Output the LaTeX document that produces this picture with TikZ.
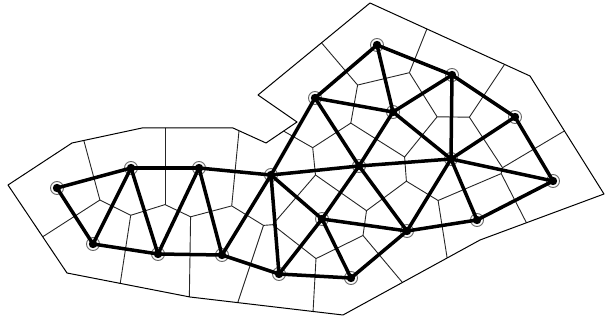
\documentclass[tikz,border=0pt]{standalone}
\begin{document}
\begin{tikzpicture}[x=1pt,y=-1pt,
  vor/.style={draw=black!85,line width=0.9pt,line join=round},
  rim/.style={draw=black,line width=1pt,line join=round},
  edge/.style={draw=black,line width=3.5pt,line cap=round},
  site/.style={circle,draw=black!60,line width=0.9pt,fill=white,minimum size=13pt,inner sep=0pt,
    path picture={\fill[black] (path picture bounding box.center) circle (4.2pt);}}]
\useasboundingbox (0,0) rectangle (606,320);
% circumcentres (Voronoi vertices)
\coordinate (c1) at (99.9,200.0);
\coordinate (c2) at (130.7,215.3);
\coordinate (c3) at (165,204.6);
\coordinate (c4) at (190.6,216.8);
\coordinate (c5) at (231.7,205.9);
\coordinate (c6) at (263.5,225.4);
\coordinate (c7) at (272.6,224.7);
\coordinate (c8) at (316,258.6);
\coordinate (c9) at (363,235.5);
\coordinate (c10) at (315.5,175);
\coordinate (c11) at (366.5,210.7);
\coordinate (c12) at (406.4,181.2);
\coordinate (c13) at (438.1,200.5);
\coordinate (c14) at (501.2,173.6);
\coordinate (c15) at (502.5,167.7);
\coordinate (c16) at (469.4,117.2);
\coordinate (c17) at (437.1,116.8);
\coordinate (c18) at (404.6,157);
\coordinate (c19) at (350.8,123.1);
\coordinate (c20) at (312.7,147.7);
\coordinate (c21) at (357.6,85.05);
\coordinate (c22) at (409.4,72.7);
% ray ends
\coordinate (r1) at (69.9,89);
\coordinate (r2) at (15.9,254);
\coordinate (r3) at (115.7,312.8);
\coordinate (r4) at (165,100);
\coordinate (r5) at (189.1,312.8);
\coordinate (r6) at (242.2,97.9);
\coordinate (r7) at (235,310.9);
\coordinate (r8) at (312,330.6);
\coordinate (r9) at (419.4,302.7);
\coordinate (r10) at (451.3,284.5);
\coordinate (r11) at (540.2,249.6);
\coordinate (r12) at (598.5,110.7);
\coordinate (r13) at (519.8,41.6);
\coordinate (r14) at (439.4,-2.3);
\coordinate (r15) at (294,10.6);
\coordinate (r16) at (266.5,121.3);
% outline corners
\coordinate (b1) at (8,185);
\coordinate (b2) at (72,143);
\coordinate (b3) at (142,128);
\coordinate (b4) at (233,128);
\coordinate (b5) at (266,143);
\coordinate (b6) at (297,122);
\coordinate (b7) at (258,95);
\coordinate (b8) at (370,3);
\coordinate (b9) at (530,76);
\coordinate (b10) at (604,194);
\coordinate (b11) at (480,240);
\coordinate (b12) at (343,315);
\coordinate (b13) at (190,297);
\coordinate (b14) at (67,273);
\begin{scope}
\clip (b1) -- (b2) -- (b3) -- (b4) -- (b5) -- (b6) -- (b7) -- (b8) -- (b9) -- (b10) -- (b11) -- (b12) -- (b13) -- (b14) -- cycle;
\draw[vor] (c1) -- (c2) -- (c3) -- (c4) -- (c5) -- (c6) -- (c7) -- (c8) -- (c9) -- (c11) -- (c12) -- (c13) -- (c14) -- (c15) -- (c16) -- (c17) -- (c18) -- (c12);
\draw[vor] (c7) -- (c10) -- (c11);
\draw[vor] (c10) -- (c20) -- (c19) -- (c18);
\draw[vor] (c19) -- (c21) -- (c22) -- (c17);
\draw[vor] (c1) -- (r1);
\draw[vor] (c1) -- (r2);
\draw[vor] (c2) -- (r3);
\draw[vor] (c3) -- (r4);
\draw[vor] (c4) -- (r5);
\draw[vor] (c5) -- (r6);
\draw[vor] (c6) -- (r7);
\draw[vor] (c8) -- (r8);
\draw[vor] (c9) -- (r9);
\draw[vor] (c13) -- (r10);
\draw[vor] (c14) -- (r11);
\draw[vor] (c15) -- (r12);
\draw[vor] (c16) -- (r13);
\draw[vor] (c22) -- (r14);
\draw[vor] (c21) -- (r15);
\draw[vor] (c20) -- (r16);
\end{scope}
\draw[rim] (b1) -- (b2) -- (b3) -- (b4) -- (b5) -- (b6) -- (b7) -- (b8) -- (b9) -- (b10) -- (b11) -- (b12) -- (b13) -- (b14) -- cycle;
% sites
\node[site] (A) at (57,188) {};
\node[site] (B) at (131,168) {};
\node[site] (C) at (199,168) {};
\node[site] (D) at (93,244) {};
\node[site] (E) at (158,254) {};
\node[site] (F) at (222,255) {};
\node[site] (G) at (271,175) {};
\node[site] (H) at (279,274) {};
\node[site] (I) at (351,278) {};
\node[site] (J) at (322,219) {};
\node[site] (K) at (315,98) {};
\node[site] (L) at (377,45) {};
\node[site] (M) at (393,112) {};
\node[site] (N) at (452,75) {};
\node[site] (O) at (515,117) {};
\node[site] (P) at (359,166) {};
\node[site] (Q) at (451,159) {};
\node[site] (R) at (553,181) {};
\node[site] (S) at (477,220) {};
\node[site] (T) at (407,231) {};
% triangulation
\foreach \u/\v in {A/B,A/D,B/D,B/E,B/C,C/E,C/F,C/G,D/E,E/F,F/G,F/H,G/H,G/J,G/K,G/P,H/J,H/I,I/J,I/T,J/P,J/T,K/L,K/M,K/P,L/M,L/N,M/N,M/P,M/Q,N/Q,N/O,O/Q,O/R,P/Q,P/T,Q/R,Q/S,Q/T,R/S,S/T}
  \draw[edge] (\u.center) -- (\v.center);
\end{tikzpicture}
\end{document}
